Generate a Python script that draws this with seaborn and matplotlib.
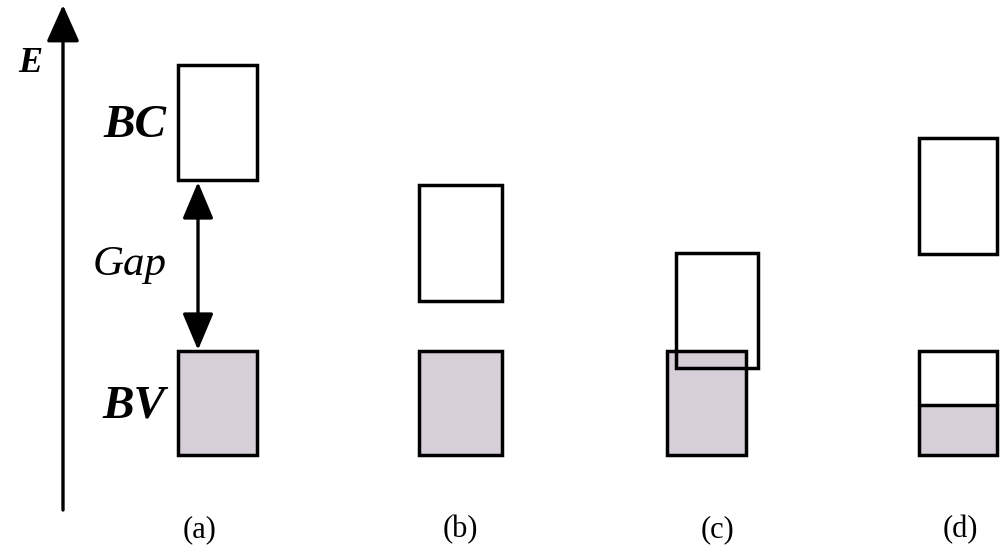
import matplotlib
matplotlib.use("Agg")
import matplotlib.pyplot as plt
import seaborn as sns
import numpy as np

# ---- data (energy units, arbitrary; higher = higher energy) ----
panels = ["(a)", "(b)", "(c)", "(d)"]
bc_bottom = [372, 251, 184, 298]
bc_top = [487, 367, 299, 414]
bv_bottom = [97, 97, 97, 97]
bv_top = [201, 201, 201, 201]
bv_filled_top = [201, 201, 201, 147]
side_labels = ["BC", "Gap", "BV"]
axis_label = "E"

sns.set_theme(style="white")
plt.rcParams["font.family"] = ["Liberation Serif", "DejaVu Serif"]
plt.rcParams["text.color"] = "black"

fig = plt.figure(figsize=(10, 5.52), dpi=100)
ax = fig.add_axes([0, 0, 1, 1])
ax.set_xlim(0, 1000)
ax.set_ylim(0, 552)
ax.axis("off")

# layout (positions of the boxes)
bc_left = [178, 419, 676, 919]
bv_left = [178, 419, 667, 919]
widths = [79, 83, 82, 78]
bv_widths = [79, 83, 79, 78]
label_x = [200, 460, 718, 960]

fill_col = "#d6cfd8"
lw = 2.5

bc_h = np.array(bc_top) - np.array(bc_bottom)
bv_h = np.array(bv_top) - np.array(bv_bottom)
fill_h = np.array(bv_filled_top) - np.array(bv_bottom)

# conduction band white face
ax.bar(bc_left, bc_h, bottom=bc_bottom, width=widths, align="edge",
       color="white", edgecolor="none", zorder=1)
# valence band filled part
ax.bar(bv_left, fill_h, bottom=bv_bottom, width=bv_widths, align="edge",
       color=fill_col, edgecolor="none", zorder=2)
# valence band outline
ax.bar(bv_left, bv_h, bottom=bv_bottom, width=bv_widths, align="edge",
       color="none", edgecolor="black", linewidth=lw, zorder=3)
# partially filled line (d)
for l, w, ft, top in zip(bv_left, bv_widths, bv_filled_top, bv_top):
    if ft < top:
        ax.plot([l, l + w], [ft, ft], color="black", lw=lw, zorder=3)
# conduction band outline on top
ax.bar(bc_left, bc_h, bottom=bc_bottom, width=widths, align="edge",
       color="none", edgecolor="black", linewidth=lw, zorder=4)

# energy axis arrow
ax.annotate("", xy=(63, 547), xytext=(63, 42),
            arrowprops=dict(arrowstyle="-|>,head_length=1.9,head_width=0.85",
                            color="black", lw=2.4, shrinkA=0, shrinkB=0))
ax.text(30, 489, axis_label, fontsize=26, fontstyle="italic",
        fontweight="bold", ha="center", va="center")

# gap arrow for (a)
ax.annotate("", xy=(198, bc_bottom[0] - 2), xytext=(198, bv_top[0] + 1),
            arrowprops=dict(arrowstyle="<|-|>,head_length=1.9,head_width=0.8",
                            color="black", lw=2.4, shrinkA=0, shrinkB=0))

ax.text(135, 426, side_labels[0], fontsize=34,
        fontstyle="italic", fontweight="bold", ha="center", va="center")
ax.text(130, 287, side_labels[1], fontsize=31,
        fontstyle="italic", ha="center", va="center")
ax.text(134, 146, side_labels[2], fontsize=34,
        fontstyle="italic", fontweight="bold", ha="center", va="center")

for x, p in zip(label_x, panels):
    ax.text(x, 22, p, fontsize=22, ha="center", va="center")

fig.savefig("out.png", dpi=100, facecolor="white")
